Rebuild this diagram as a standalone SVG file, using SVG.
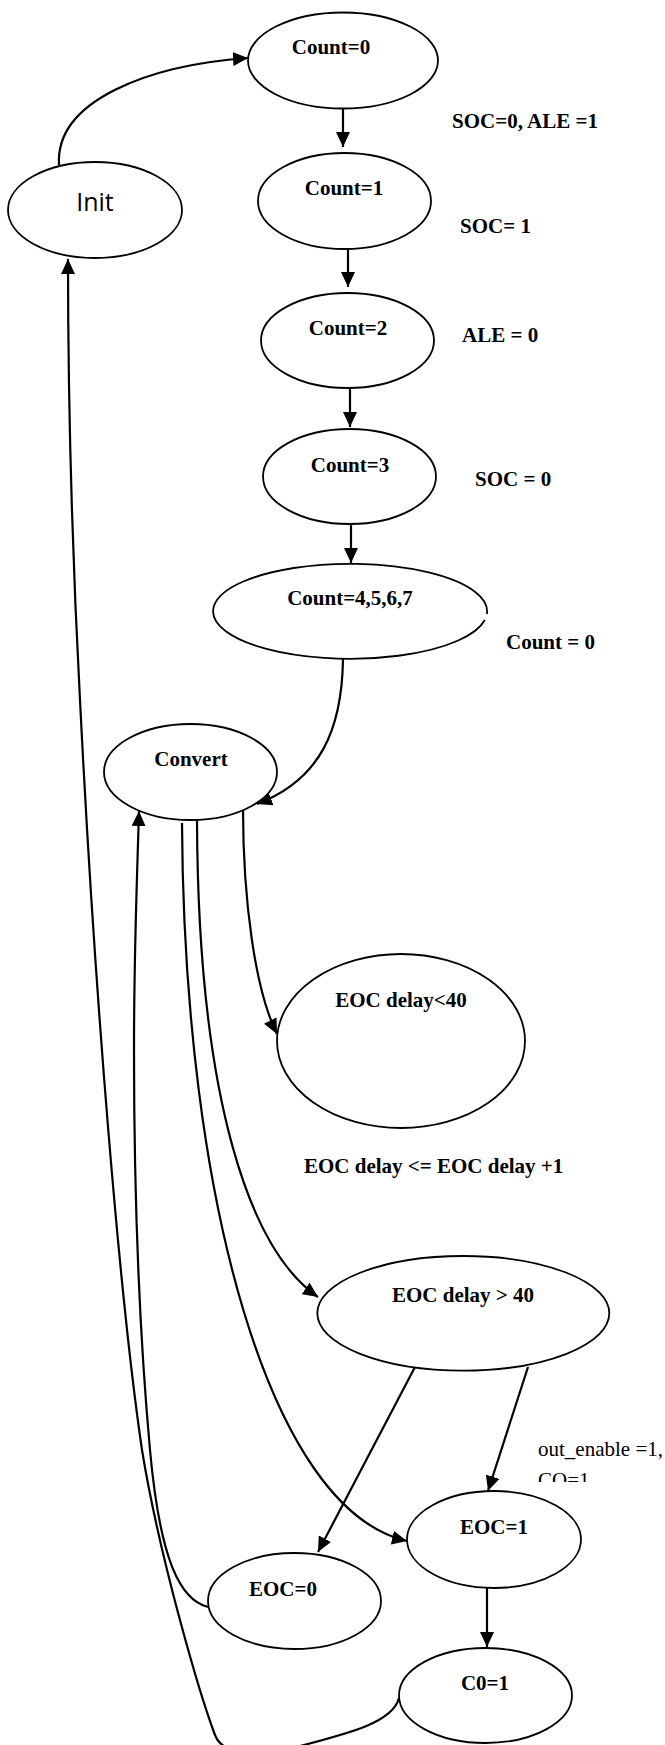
<svg xmlns="http://www.w3.org/2000/svg" width="665" height="1745" viewBox="0 0 665 1745">
<style>
.n{fill:#fff;stroke:#000;stroke-width:1.8}
.t{font-family:"Liberation Serif","Times New Roman",serif;font-weight:bold;font-size:21px;fill:#000;text-anchor:middle}
.l{font-family:"Liberation Serif","Times New Roman",serif;font-weight:bold;font-size:21px;fill:#000}
.r{font-family:"Liberation Serif","Times New Roman",serif;font-size:21px;fill:#000}
.e{fill:none;stroke:#000;stroke-width:2.2}
</style>
<defs>
<marker id="ah" viewBox="0 0 15 14" markerWidth="15" markerHeight="14" refX="15" refY="7" orient="auto" markerUnits="userSpaceOnUse">
<path d="M0,0 L15,7 L0,14 z" fill="#000"/>
</marker>
<clipPath id="cut"><rect x="530" y="1440" width="135" height="42"/></clipPath>
</defs>
<rect width="665" height="1745" fill="#fff"/>
<g id="connectors">
<path class="e" marker-end="url(#ah)" d="M59,165 C55,100 150,65 248,58"/>
<path class="e" marker-end="url(#ah)" d="M343,108 L343,147"/>
<path class="e" marker-end="url(#ah)" d="M348,249 L348,287"/>
<path class="e" marker-end="url(#ah)" d="M350,388 L350,427"/>
<path class="e" marker-end="url(#ah)" d="M351,524 L351,563"/>
<path class="e" marker-end="url(#ah)" d="M343,659 C342,730 320,780 257,804"/>
<path class="e" marker-end="url(#ah)" d="M243,808 C243,900 255,990 277,1034"/>
<path class="e" marker-end="url(#ah)" d="M197,820 C198,1100 250,1250 318,1297"/>
<path class="e" marker-end="url(#ah)" d="M182,823 C184,1200 270,1510 407,1541"/>
<path class="e" marker-end="url(#ah)" d="M415,1367 L318,1552"/>
<path class="e" marker-end="url(#ah)" d="M528,1367 L488,1491"/>
<path class="e" marker-end="url(#ah)" d="M487,1588 L487,1647"/>
<path class="e" marker-end="url(#ah)" d="M208,1607 C180,1600 160,1560 150,1450 C140,1340 134,1200 134,1050 C134,950 137,880 139,811"/>
<path class="e" marker-end="url(#ah)" d="M399,1698 C393,1722 350,1733 300,1746 C260,1756 223,1757 215,1735 C200,1695 160,1560 142,1450 C120,1300 95,1000 80,700 C72,550 68,400 68,259"/>
</g>
<g id="labels">
<text class="l" x="452" y="128">SOC=0, ALE =1</text>
<text class="l" x="460" y="233">SOC= 1</text>
<text class="l" x="462" y="342">ALE = 0</text>
<text class="l" x="475" y="486">SOC = 0</text>
<text class="l" x="506" y="649">Count = 0</text>
<text class="l" x="304" y="1173">EOC delay &lt;= EOC delay +1</text>
<text class="r" x="538" y="1456">out_enable =1,</text>
<text class="r" x="538" y="1487" clip-path="url(#cut)">CO=1</text>
</g>
<g id="init"><ellipse class="n" cx="95" cy="210" rx="87" ry="48"/><text x="95" y="211" font-family="'Open Sans','Liberation Sans',sans-serif" font-size="25" text-anchor="middle">Init</text></g>
<g id="count0"><ellipse class="n" cx="343" cy="60.5" rx="95" ry="48"/><text class="t" x="331" y="54">Count=0</text></g>
<g id="count1"><ellipse class="n" cx="344.5" cy="201" rx="86.5" ry="48"/><text class="t" x="344" y="195">Count=1</text></g>
<g id="count2"><ellipse class="n" cx="347.5" cy="340.5" rx="86.5" ry="47.5"/><text class="t" x="348" y="335">Count=2</text></g>
<g id="count3"><ellipse class="n" cx="349.5" cy="476.5" rx="86.5" ry="47.5"/><text class="t" x="350" y="472">Count=3</text></g>
<g id="count4567"><path class="n" d="M484.8,620 A137,47.5 0 1 1 486.9,614"/><text class="t" x="350" y="605">Count=4,5,6,7</text></g>
<g id="convert"><ellipse class="n" cx="190.5" cy="772" rx="86.5" ry="48"/><text class="t" x="191" y="766">Convert</text></g>
<g id="eoc_lt40"><ellipse class="n" cx="401" cy="1041" rx="124" ry="87"/><text class="t" x="401" y="1007">EOC delay&lt;40</text></g>
<g id="eoc_gt40"><ellipse class="n" cx="463.3" cy="1313.3" rx="146" ry="57.3"/><text class="t" x="463" y="1302">EOC delay &gt; 40</text></g>
<g id="eoc0"><ellipse class="n" cx="294.5" cy="1601" rx="86.5" ry="48"/><text class="t" x="283" y="1596">EOC=0</text></g>
<g id="eoc1"><ellipse class="n" cx="494" cy="1539.5" rx="87" ry="48.5"/><text class="t" x="494" y="1534">EOC=1</text></g>
<g id="c0"><ellipse class="n" cx="485.5" cy="1695.5" rx="86.5" ry="47.5"/><text class="t" x="485" y="1690">C0=1</text></g>
</svg>
